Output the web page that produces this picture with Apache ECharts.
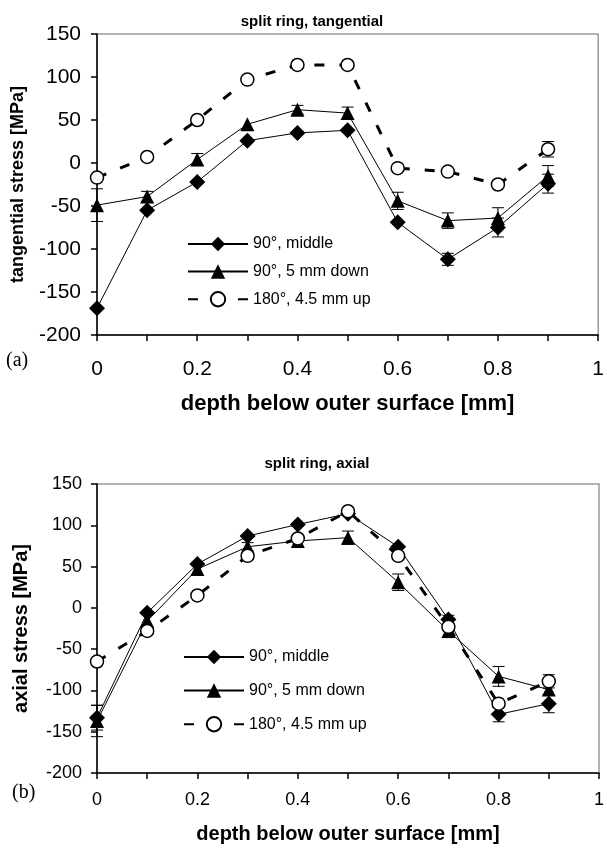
<!DOCTYPE html>
<html>
<head>
<meta charset="utf-8">
<script src="https://cdn.jsdelivr.net/npm/echarts@6/dist/echarts.min.js"></script>
<style>
html,body{margin:0;padding:0;background:#fff;}
#chart{width:607px;height:848px;}
</style>
</head>
<body>
<div id="chart"></div>
<script>
// ---- data ----
const depth = [0, 0.1, 0.2, 0.3, 0.4, 0.5, 0.6, 0.7, 0.8, 0.9];
const seriesNames = ['90°, middle', '90°, 5 mm down', '180°, 4.5 mm up'];
const xTickLabels = ['0', '0.2', '0.4', '0.6', '0.8', '1'];

// (a) tangential stress [MPa]
const tanMiddle = [-169, -55, -22, 26, 35, 38, -69, -112, -75, -24];
const tanDown   = [-49, -39, 4, 45, 62, 58, -44, -67, -64, -15];
const tanUp     = [-17, 7, 50, 97, 114, 114, -6, -10, -25, 16];
const tanMiddleErr = [0, 0, 0, 0, 0, 0, 0, 7, 11, 11];
const tanDownErr   = [19, 6, 7, 0, 5, 7, 10, 9, 12, 12];
const tanUpErr     = [0, 0, 0, 0, 0, 0, 0, 0, 0, 9];

// (b) axial stress [MPa]
const axMiddle = [-133, -6, 53, 87, 101, 114, 74, -14, -129, -116];
const axDown   = [-137, -16, 47, 74, 81, 85, 31, -28, -83, -99];
const axUp     = [-65, -28, 15, 63, 84, 117, 63, -23, -116, -89];
const axMiddleErr = [15, 0, 0, 0, 0, 0, 0, 5, 9, 11];
const axDownErr   = [19, 0, 0, 5, 0, 8, 10, 8, 12, 0];
const axUpErr     = [0, 0, 0, 0, 0, 0, 0, 0, 0, 8];

// ---- helpers ----
const FONT = 'Liberation Sans, Arial, Helvetica, sans-serif';
function pairs(ys) { return depth.map((x, i) => [x, ys[i]]); }
function errData(ys, es) {
  const out = [];
  depth.forEach((x, i) => { if (es[i] > 0) out.push([x, ys[i], es[i]]); });
  return out;
}
function errRender(params, api) {
  const x = api.value(0), y = api.value(1), e = api.value(2);
  const t = api.coord([x, y + e]);
  const b = api.coord([x, y - e]);
  const w = 6;
  const st = { stroke: '#000', lineWidth: 1 };
  return {
    type: 'group',
    children: [
      { type: 'line', shape: { x1: t[0], y1: t[1], x2: b[0], y2: b[1] }, style: st },
      { type: 'line', shape: { x1: t[0] - w, y1: t[1], x2: t[0] + w, y2: t[1] }, style: st },
      { type: 'line', shape: { x1: b[0] - w, y1: b[1], x2: b[0] + w, y2: b[1] }, style: st }
    ]
  };
}
function xLabelFmt(v) {
  const r = Math.round(v * 10);
  if (r % 2 !== 0) return '';
  const s = String(r / 10);
  return xTickLabels.indexOf(s) >= 0 ? s : '';
}

const styles = [
  { symbol: 'diamond', symbolSize: 16, itemStyle: { color: '#000' },
    lineStyle: { color: '#000', width: 1, type: 'solid' } },
  { symbol: 'triangle', symbolSize: 14, itemStyle: { color: '#000' },
    lineStyle: { color: '#000', width: 1, type: 'solid' } },
  { symbol: 'circle', symbolSize: 13, itemStyle: { color: '#fff', borderColor: '#000', borderWidth: 1.5 },
    lineStyle: { color: '#000', width: 3, type: [10, 15] } }
];

function lineSeries(idx, ys, gi) {
  const s = styles[idx];
  return {
    type: 'line', name: seriesNames[idx], xAxisIndex: gi, yAxisIndex: gi,
    data: pairs(ys), symbol: s.symbol, symbolSize: s.symbolSize,
    showAllSymbol: true, itemStyle: s.itemStyle, lineStyle: s.lineStyle,
    z: 3, emphasis: { disabled: true }
  };
}
function errSeries(ys, es, gi) {
  return {
    type: 'custom', xAxisIndex: gi, yAxisIndex: gi, data: errData(ys, es),
    renderItem: errRender, z: 2, silent: true
  };
}

function xAxis(gi, fs, margin, nameFs, nameGap) {
  return {
    type: 'value', gridIndex: gi, min: 0, max: 1, interval: 0.1,
    axisLine: { show: true, onZero: false, lineStyle: { color: '#000', width: 1.5 } },
    axisTick: { show: true, inside: false, length: 6, lineStyle: { color: '#000', width: 1.5 } },
    axisLabel: { formatter: xLabelFmt, color: '#000', fontSize: fs, fontFamily: FONT, margin: margin },
    splitLine: { show: false },
    name: 'depth below outer surface [mm]', nameLocation: 'middle', nameGap: nameGap,
    nameTextStyle: { color: '#000', fontSize: nameFs, fontWeight: 'bold', fontFamily: FONT }
  };
}
function yAxis(gi, name, fs, margin, nameFs, nameGap) {
  return {
    type: 'value', gridIndex: gi, min: -200, max: 150, interval: 50,
    axisLine: { show: true, onZero: false, lineStyle: { color: '#000', width: 1.5 } },
    axisTick: { show: true, inside: false, length: 6, lineStyle: { color: '#000', width: 1.5 } },
    axisLabel: { color: '#000', fontSize: fs, fontFamily: FONT, margin: margin },
    splitLine: { show: false },
    name: name, nameLocation: 'middle', nameGap: nameGap,
    nameTextStyle: { color: '#000', fontSize: nameFs, fontWeight: 'bold', fontFamily: FONT }
  };
}

const chart = echarts.init(document.getElementById('chart'), null, { renderer: 'canvas' });
chart.setOption({
  animation: false,
  backgroundColor: '#fff',
  title: [
    { text: 'split ring, tangential', left: 307, top: 9, textAlign: 'center',
      textStyle: { fontSize: 15, fontWeight: 'bold', fontFamily: FONT, color: '#000' } },
    { text: 'split ring, axial', left: 312, top: 451, textAlign: 'center',
      textStyle: { fontSize: 15, fontWeight: 'bold', fontFamily: FONT, color: '#000' } }
  ],
  grid: [
    { left: 97, top: 34, width: 506, height: 301, show: true, borderColor: '#9a9a9a', borderWidth: 1.5, backgroundColor: 'transparent' },
    { left: 97, top: 484, width: 507, height: 289, show: true, borderColor: '#9a9a9a', borderWidth: 1.5, backgroundColor: 'transparent' }
  ],
  xAxis: [ xAxis(0, 21, 24, 22, 58), xAxis(1, 18, 18, 20, 51) ],
  yAxis: [
    yAxis(0, 'tangential stress [MPa]', 21, 16, 18, 70),
    yAxis(1, 'axial stress [MPa]', 18, 15, 20, 66)
  ],
  legend: [
    { data: seriesNames, orient: 'vertical', left: 187, top: 236, padding: 0, itemWidth: 60, itemHeight: 18, itemGap: 11.5,
      textStyle: { fontSize: 16, fontFamily: FONT, color: '#000' }, selectedMode: false },
    { data: seriesNames, orient: 'vertical', left: 183, top: 649, padding: 0, itemWidth: 60, itemHeight: 18, itemGap: 17.5,
      textStyle: { fontSize: 16, fontFamily: FONT, color: '#000' }, selectedMode: false }
  ],
  graphic: [
    { type: 'text', left: 6, top: 351, style: { text: '(a)', font: '20px "Liberation Serif", "Times New Roman", serif', fill: '#000' } },
    { type: 'text', left: 12, top: 783, style: { text: '(b)', font: '20px "Liberation Serif", "Times New Roman", serif', fill: '#000' } }
  ],
  series: [
    errSeries(tanMiddle, tanMiddleErr, 0),
    errSeries(tanDown, tanDownErr, 0),
    errSeries(tanUp, tanUpErr, 0),
    lineSeries(0, tanMiddle, 0),
    lineSeries(1, tanDown, 0),
    lineSeries(2, tanUp, 0),
    errSeries(axMiddle, axMiddleErr, 1),
    errSeries(axDown, axDownErr, 1),
    errSeries(axUp, axUpErr, 1),
    lineSeries(0, axMiddle, 1),
    lineSeries(1, axDown, 1),
    lineSeries(2, axUp, 1)
  ]
});
</script>
</body>
</html>
